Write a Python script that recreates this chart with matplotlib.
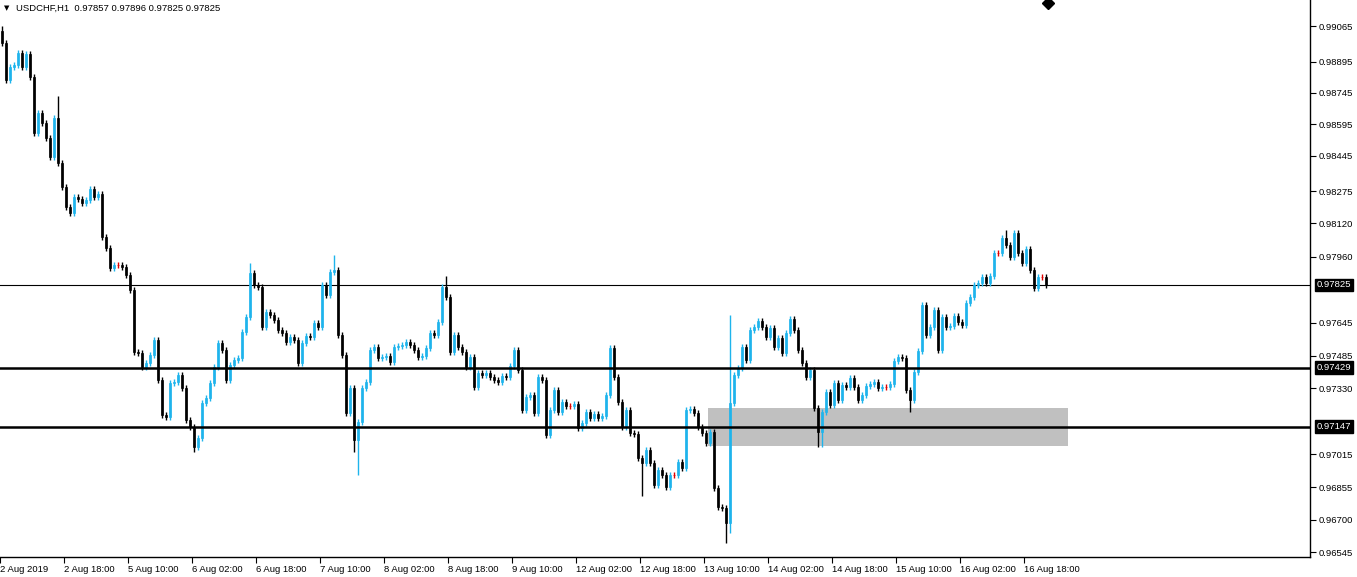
import matplotlib
matplotlib.use("Agg")
import matplotlib.pyplot as plt
from matplotlib.patches import Rectangle
import numpy as np

closes_pts = [
98984,98807,98869,98879,98936,98869,98931,98821,98553,98649,98601,98529,98438,98625,98409,98294,
98198,98170,98246,98237,98218,98232,98285,98246,98261,98055,98002,97906,97921,97921,97911,97873,
97801,97504,97499,97432,97451,97490,97561,97370,97202,97193,97355,97360,97394,97331,97178,97145,
97049,97092,97260,97284,97355,97432,97547,97513,97370,97442,97466,97475,97600,97672,97882,97825,97815,
97624,97696,97681,97657,97609,97595,97552,97576,97561,97451,97547,97581,97576,97643,97624,97825,
97777,97887,97897,97585,97490,97212,97331,97082,97169,97331,97360,97513,97528,97475,97480,97485,
97456,97528,97533,97537,97552,97537,97513,97480,97485,97523,97595,97585,97648,97815,97767,97504,
97585,97528,97504,97432,97480,97336,97403,97394,97403,97384,97370,97360,97389,97384,97437,97513,97418,
97226,97288,97298,97212,97384,97370,97106,97226,97322,97217,97264,97245,97245,97255,97140,97164,
97217,97188,97207,97188,97197,97298,97523,97384,97264,97145,97226,97116,97111,96996,96972,97034,
96972,96867,96939,96915,96857,96915,96915,96977,96948,97226,97231,97212,97145,97116,97068,97121,
96852,96761,96757,96685,97260,97394,97427,97528,97466,97609,97624,97652,97624,97576,97619,97528,97571,97499,
97595,97662,97609,97513,97451,97384,97418,97236,97121,97217,97312,97250,97355,97274,97346,97336,
97379,97336,97274,97298,97341,97351,97360,97331,97336,97336,97351,97461,97480,97475,97322,97274,
97408,97509,97729,97585,97624,97705,97513,97672,97624,97628,97676,97648,97633,97739,97767,97825,
97834,97863,97834,97868,97978,97978,98050,98016,97959,98074,97978,97930,97997,97897,97810,97863,97863,97825,
]
first_open_pts = 99040
# notable wick extremes: bar index -> price points
high_overrides = {14: 98730, 62: 97930, 83: 97969, 111: 97868, 182: 97681, 251: 98088, 0: 99065}
low_overrides = {48: 97025, 88: 97025, 89: 96915, 160: 96814, 181: 96589, 182: 96637,
                 204: 97049, 205: 97049, 227: 97216}

date_labels = ["2 Aug 2019", "2 Aug 18:00", "5 Aug 10:00", "6 Aug 02:00", "6 Aug 18:00",
               "7 Aug 10:00", "8 Aug 02:00", "8 Aug 18:00", "9 Aug 10:00", "12 Aug 02:00",
               "12 Aug 18:00", "13 Aug 10:00", "14 Aug 02:00", "14 Aug 18:00", "15 Aug 10:00",
               "16 Aug 02:00", "16 Aug 18:00"]
ytick_vals = [0.99065, 0.98895, 0.98745, 0.98595, 0.98445, 0.98275, 0.98120, 0.97960,
              0.97645, 0.97485, 0.97330, 0.97015, 0.96855, 0.96700, 0.96545]
level_current = 0.97825
level_lines = [0.97429, 0.97147]
zone = (0.97054, 0.97236, 176.5, 266.5)  # low, high, start bar, end bar

closes = np.array(closes_pts) / 1e5
opens = np.concatenate([[first_open_pts / 1e5], closes[:-1]])
n = len(closes)

FONT = "Liberation Sans"
FS = 6.8
W, H = 1357, 577
fig = plt.figure(figsize=(W / 100, H / 100), dpi=100)
ax = fig.add_axes([0, 20 / H, 1310 / W, 557 / H])
ax.set_xlim(-0.5, 327)
ax.set_ylim(0.96522, 0.99190)

bull = "#1eb4ec"
wick = 0.00014
for i in range(n):
    o, c = opens[i], closes[i]
    top, bot = max(o, c), min(o, c)
    hi = high_overrides.get(i, None)
    lo = low_overrides.get(i, None)
    hi = hi / 1e5 if hi else top + wick
    lo = lo / 1e5 if lo else bot - wick
    if abs(c - o) < 0.000015:
        col = "#e00000"
    else:
        col = bull if c > o else "black"
    ax.vlines(i, lo, hi, color=col, lw=1.0, zorder=3)
    ax.add_patch(Rectangle((i - 0.3, bot), 0.6, max(top - bot, 0.00002),
                           facecolor=col, edgecolor=col, lw=0.5, zorder=4))

ax.add_patch(Rectangle((zone[2], zone[0]), zone[3] - zone[2], zone[1] - zone[0],
                       facecolor="#c0c0c0", edgecolor="none", zorder=1))
ax.axhline(level_current, color="black", lw=0.8, zorder=2)
for lv in level_lines:
    ax.axhline(lv, color="black", lw=1.8, zorder=5)

for s in ["top", "left"]:
    ax.spines[s].set_visible(False)
ax.spines["right"].set_linewidth(1)
ax.spines["bottom"].set_linewidth(1)
ax.yaxis.tick_right()
ax.set_yticks(ytick_vals)
ax.set_yticklabels([f"{v:.5f}" for v in ytick_vals], fontsize=FS, family=FONT)
ax.tick_params(axis="y", length=4, pad=2)
ax.set_xticks(np.arange(len(date_labels)) * 16 - 0.5)
ax.set_xticklabels(date_labels, fontsize=FS, ha="left", family=FONT)
ax.tick_params(axis="x", length=4, pad=2)

for lv in [level_current] + level_lines:
    ax.text(1.005, lv, f"{lv:.5f}", transform=ax.get_yaxis_transform(), fontsize=FS,
            color="white", va="center", ha="left", family=FONT,
            bbox=dict(boxstyle="square,pad=0.2", fc="black", ec="black"), zorder=10)

fig.text(4 / W, 1 - 8 / H, "\u25BC", fontsize=5, va="center")
fig.text(16 / W, 1 - 8 / H, "USDCHF,H1  0.97857 0.97896 0.97825 0.97825", fontsize=FS,
         va="center", family=FONT)
ax.plot([261.5], [0.99175], marker="D", color="black", ms=6, clip_on=False, zorder=10)

fig.savefig("out.png", dpi=100)
